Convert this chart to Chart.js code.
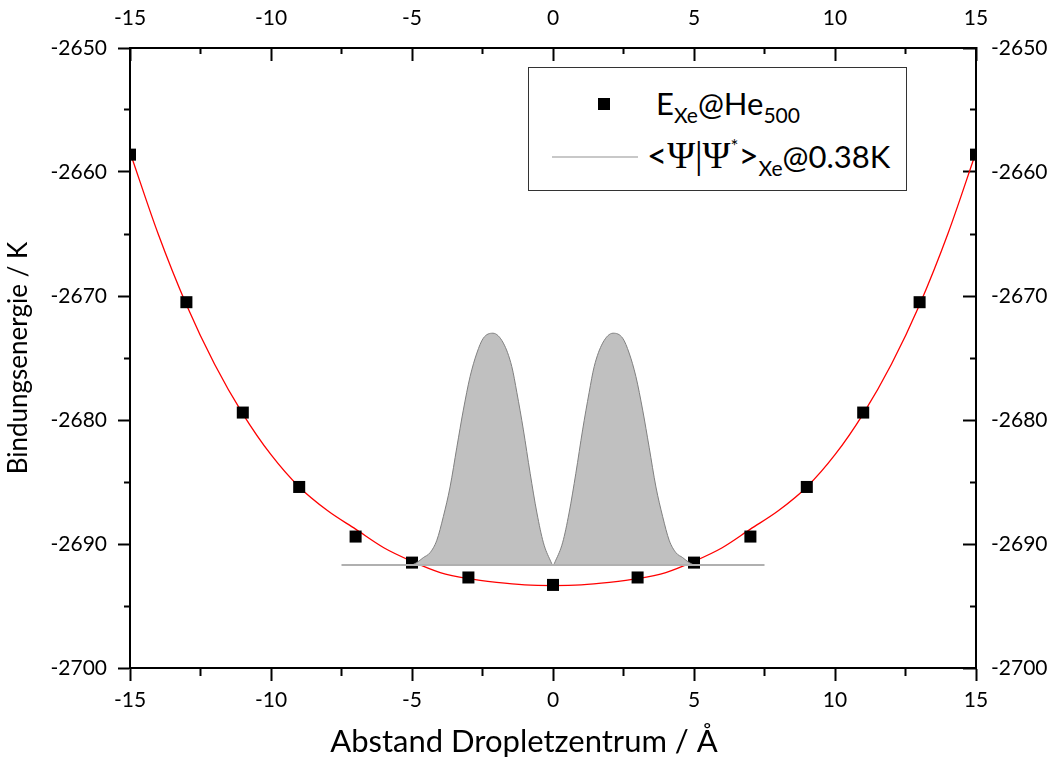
<!DOCTYPE html>
<html>
<head>
<meta charset="utf-8">
<script src="https://cdn.jsdelivr.net/npm/chart.js@4.4.1/dist/chart.umd.min.js"></script>
<style>
  html, body { margin: 0; padding: 0; background: #fff; }
  #wrap { position: relative; width: 1048px; height: 764px; }
  #legend { position: absolute; left: 528px; top: 67px; width: 379px; height: 124px;
            border: 1px solid #333; background: #fff; box-sizing: border-box; color: #000; }
  #lgMark { position: absolute; left: 69px; top: 30px; width: 12px; height: 12px; background: #000; }
  #lgLine { position: absolute; left: 23px; top: 88px; width: 86px; height: 2px; background: #c8c8c8; }
  .lgText { position: absolute; font-family: Lato, sans-serif; font-size: 31px; line-height: 31px; white-space: nowrap; }
  #lgT1 { left: 127px; top: 20px; }
  #lgT2 { left: 118px; top: 71px; }
  .sb { font-size: 0.68em; position: relative; top: 0.38em; }
  .sp { font-size: 0.6em; position: relative; top: -0.8em; }
  .gr { font-family: "Liberation Serif", serif; font-size: 1.22em; line-height: 31px; }
  .br { font-size: 1.12em; }
</style>
</head>
<body>
<div id="wrap">
  <canvas id="chart" width="1048" height="764"></canvas>
  <div id="legend">
    <span id="lgMark"></span>
    <span id="lgLine"></span>
    <div class="lgText" id="lgT1">E<span class="sb">Xe</span>@He<span class="sb">500</span></div>
    <div class="lgText" id="lgT2"><span class="br">&lt;</span><span class="gr">Ψ|Ψ</span><span class="sp">*</span><span class="br">&gt;</span><span class="sb">Xe</span>@0.38K</div>
  </div>
</div>
<script>
// Binding energy of Xe in a He500 droplet vs. distance from the droplet centre
const energyX = [-15, -13, -11, -9, -7, -5, -3, 0, 3, 5, 7, 9, 11, 13, 15];
const energyY = [-2658.6, -2670.5, -2679.4, -2685.4, -2689.4, -2691.5, -2692.7, -2693.3,
                 -2692.7, -2691.5, -2689.4, -2685.4, -2679.4, -2670.5, -2658.6];

// Smooth fit curve through the energies
const fitX = [-15, -14, -13, -12, -11, -10, -9, -8, -7, -6, -5, -4, -3, -2, -1, 0,
              1, 2, 3, 4, 5, 6, 7, 8, 9, 10, 11, 12, 13, 14, 15];
const fitY = [-2658.4, -2665.0, -2670.7, -2675.5, -2679.5, -2682.8, -2685.4, -2687.3,
              -2688.8, -2690.3, -2691.4, -2692.3, -2692.8, -2693.1, -2693.3, -2693.35,
              -2693.3, -2693.1, -2692.8, -2692.3, -2691.4, -2690.3, -2688.8, -2687.3,
              -2685.4, -2682.8, -2679.5, -2675.5, -2670.7, -2665.0, -2658.4];

// Xe probability density at 0.38 K, drawn on top of its zero line
const psiBase = -2691.7;
const psiBaseX = [-7.5, 7.5];
const psiX = [-5.0, -4.83, -4.6, -4.36, -4.12, -3.89, -3.65, -3.41, -3.18, -2.94, -2.70,
              -2.47, -2.13, -1.76, -1.46, -1.28, -1.05, -0.81, -0.57, -0.34, -0.10, 0,
              0.10, 0.34, 0.57, 0.81, 1.05, 1.28, 1.46, 1.76, 2.13, 2.47, 2.70, 2.94,
              3.18, 3.41, 3.65, 3.89, 4.12, 4.36, 4.6, 4.83, 5.0];
const psiY = [-2691.7, -2691.5, -2691.1, -2690.7, -2689.7, -2687.8, -2685.4, -2682.2,
              -2679.2, -2676.5, -2674.6, -2673.4, -2673.0, -2673.8, -2675.7, -2677.8,
              -2680.8, -2684.3, -2687.5, -2689.9, -2691.3, -2691.7,
              -2691.3, -2689.9, -2687.5, -2684.3, -2680.8, -2677.8, -2675.7, -2673.8,
              -2673.0, -2673.4, -2674.6, -2676.5, -2679.2, -2682.2, -2685.4, -2687.8,
              -2689.7, -2690.7, -2691.1, -2691.5, -2691.7];

// Axis ranges and tick spacing (major ticks labelled, minor ticks halfway)
const xRange = [-15, 15];
const yRange = [-2700, -2650];
const xMajor = 5;
const yMajor = 10;

const pts = (xs, ys) => xs.map((x, i) => ({ x: x, y: ys[i] }));
const isMinor = (ctx, major) => ctx.tick && Math.abs(ctx.tick.value % major) > 1e-6;

Chart.defaults.font.family = 'Lato, sans-serif';
Chart.defaults.color = '#000';

function axis(pos, range, major, padding, extra) {
  return Object.assign({
    type: 'linear',
    position: pos,
    min: range[0],
    max: range[1],
    ticks: {
      stepSize: major / 2,
      autoSkip: false,
      maxRotation: 0,
      padding: padding,
      font: { size: 21 },
      callback: v => (Math.abs(v % major) < 1e-6 ? String(v) : '')
    },
    border: { display: true, color: '#000', width: 2 }
  }, extra);
}

new Chart(document.getElementById('chart'), {
  type: 'line',
  data: {
    datasets: [
      {
        label: 'fit',
        data: pts(fitX, fitY),
        borderColor: '#ff0000',
        borderWidth: 1.3,
        pointRadius: 0,
        cubicInterpolationMode: 'monotone',
        fill: false,
        order: 4
      },
      {
        label: 'E_Xe@He500',
        data: pts(energyX, energyY),
        showLine: false,
        pointStyle: 'rect',
        pointRadius: 8.5,
        pointBackgroundColor: '#000',
        pointBorderWidth: 0,
        order: 3
      },
      {
        label: '<Ψ|Ψ*>Xe@0.38K',
        data: pts(psiX, psiY),
        borderColor: '#808080',
        borderWidth: 1,
        backgroundColor: '#c0c0c0',
        pointRadius: 0,
        cubicInterpolationMode: 'monotone',
        fill: { value: psiBase },
        order: 2
      },
      {
        label: 'zero line',
        data: pts(psiBaseX, [psiBase, psiBase]),
        borderColor: '#b0b0b0',
        borderWidth: 2,
        pointRadius: 0,
        fill: false,
        order: 1
      }
    ]
  },
  options: {
    responsive: false,
    animation: false,
    events: [],
    layout: { padding: 0 },
    plugins: {
      legend: { display: false },
      tooltip: { enabled: false },
      // x-axis caption, centred on the whole figure
      title: {
        display: true,
        position: 'bottom',
        text: 'Abstand Dropletzentrum / Å',
        color: '#000',
        font: { size: 31, weight: 'normal', lineHeight: 1.2 },
        padding: { top: 0, bottom: 3 }
      }
    },
    scales: {
      x: axis('bottom', xRange, xMajor, 7, {
        grid: {
          drawOnChartArea: false, tickLength: 13, tickWidth: 2, tickColor: '#000',
          tickBorderDash: ctx => (isMinor(ctx, xMajor) ? [7, 100] : [])
        },
        afterFit: s => { s.height = 96 - 40.2; }
      }),
      x2: axis('top', xRange, xMajor, 30, {
        grid: {
          drawOnChartArea: false, tickLength: -13, tickWidth: 2, tickColor: '#000',
          tickBorderDash: ctx => (isMinor(ctx, xMajor) ? [0, 7, 7, 100] : [])
        },
        afterFit: s => { s.height = 48; }
      }),
      y: axis('left', yRange, yMajor, 11, {
        grid: {
          drawOnChartArea: false, tickLength: 12, tickWidth: 2, tickColor: '#000',
          tickBorderDash: ctx => (isMinor(ctx, yMajor) ? [0, 6, 7, 100] : [])
        },
        title: { display: true, text: 'Bindungsenergie / K', font: { size: 26 },
                 padding: { top: 3, bottom: 0 } },
        afterFit: s => { s.width = 130; }
      }),
      y2: axis('right', yRange, yMajor, 28, {
        grid: {
          drawOnChartArea: false, tickLength: -13, tickWidth: 2, tickColor: '#000',
          tickBorderDash: ctx => (isMinor(ctx, yMajor) ? [7, 100] : [])
        },
        afterFit: s => { s.width = 72; }
      })
    }
  }
});
</script>
</body>
</html>
